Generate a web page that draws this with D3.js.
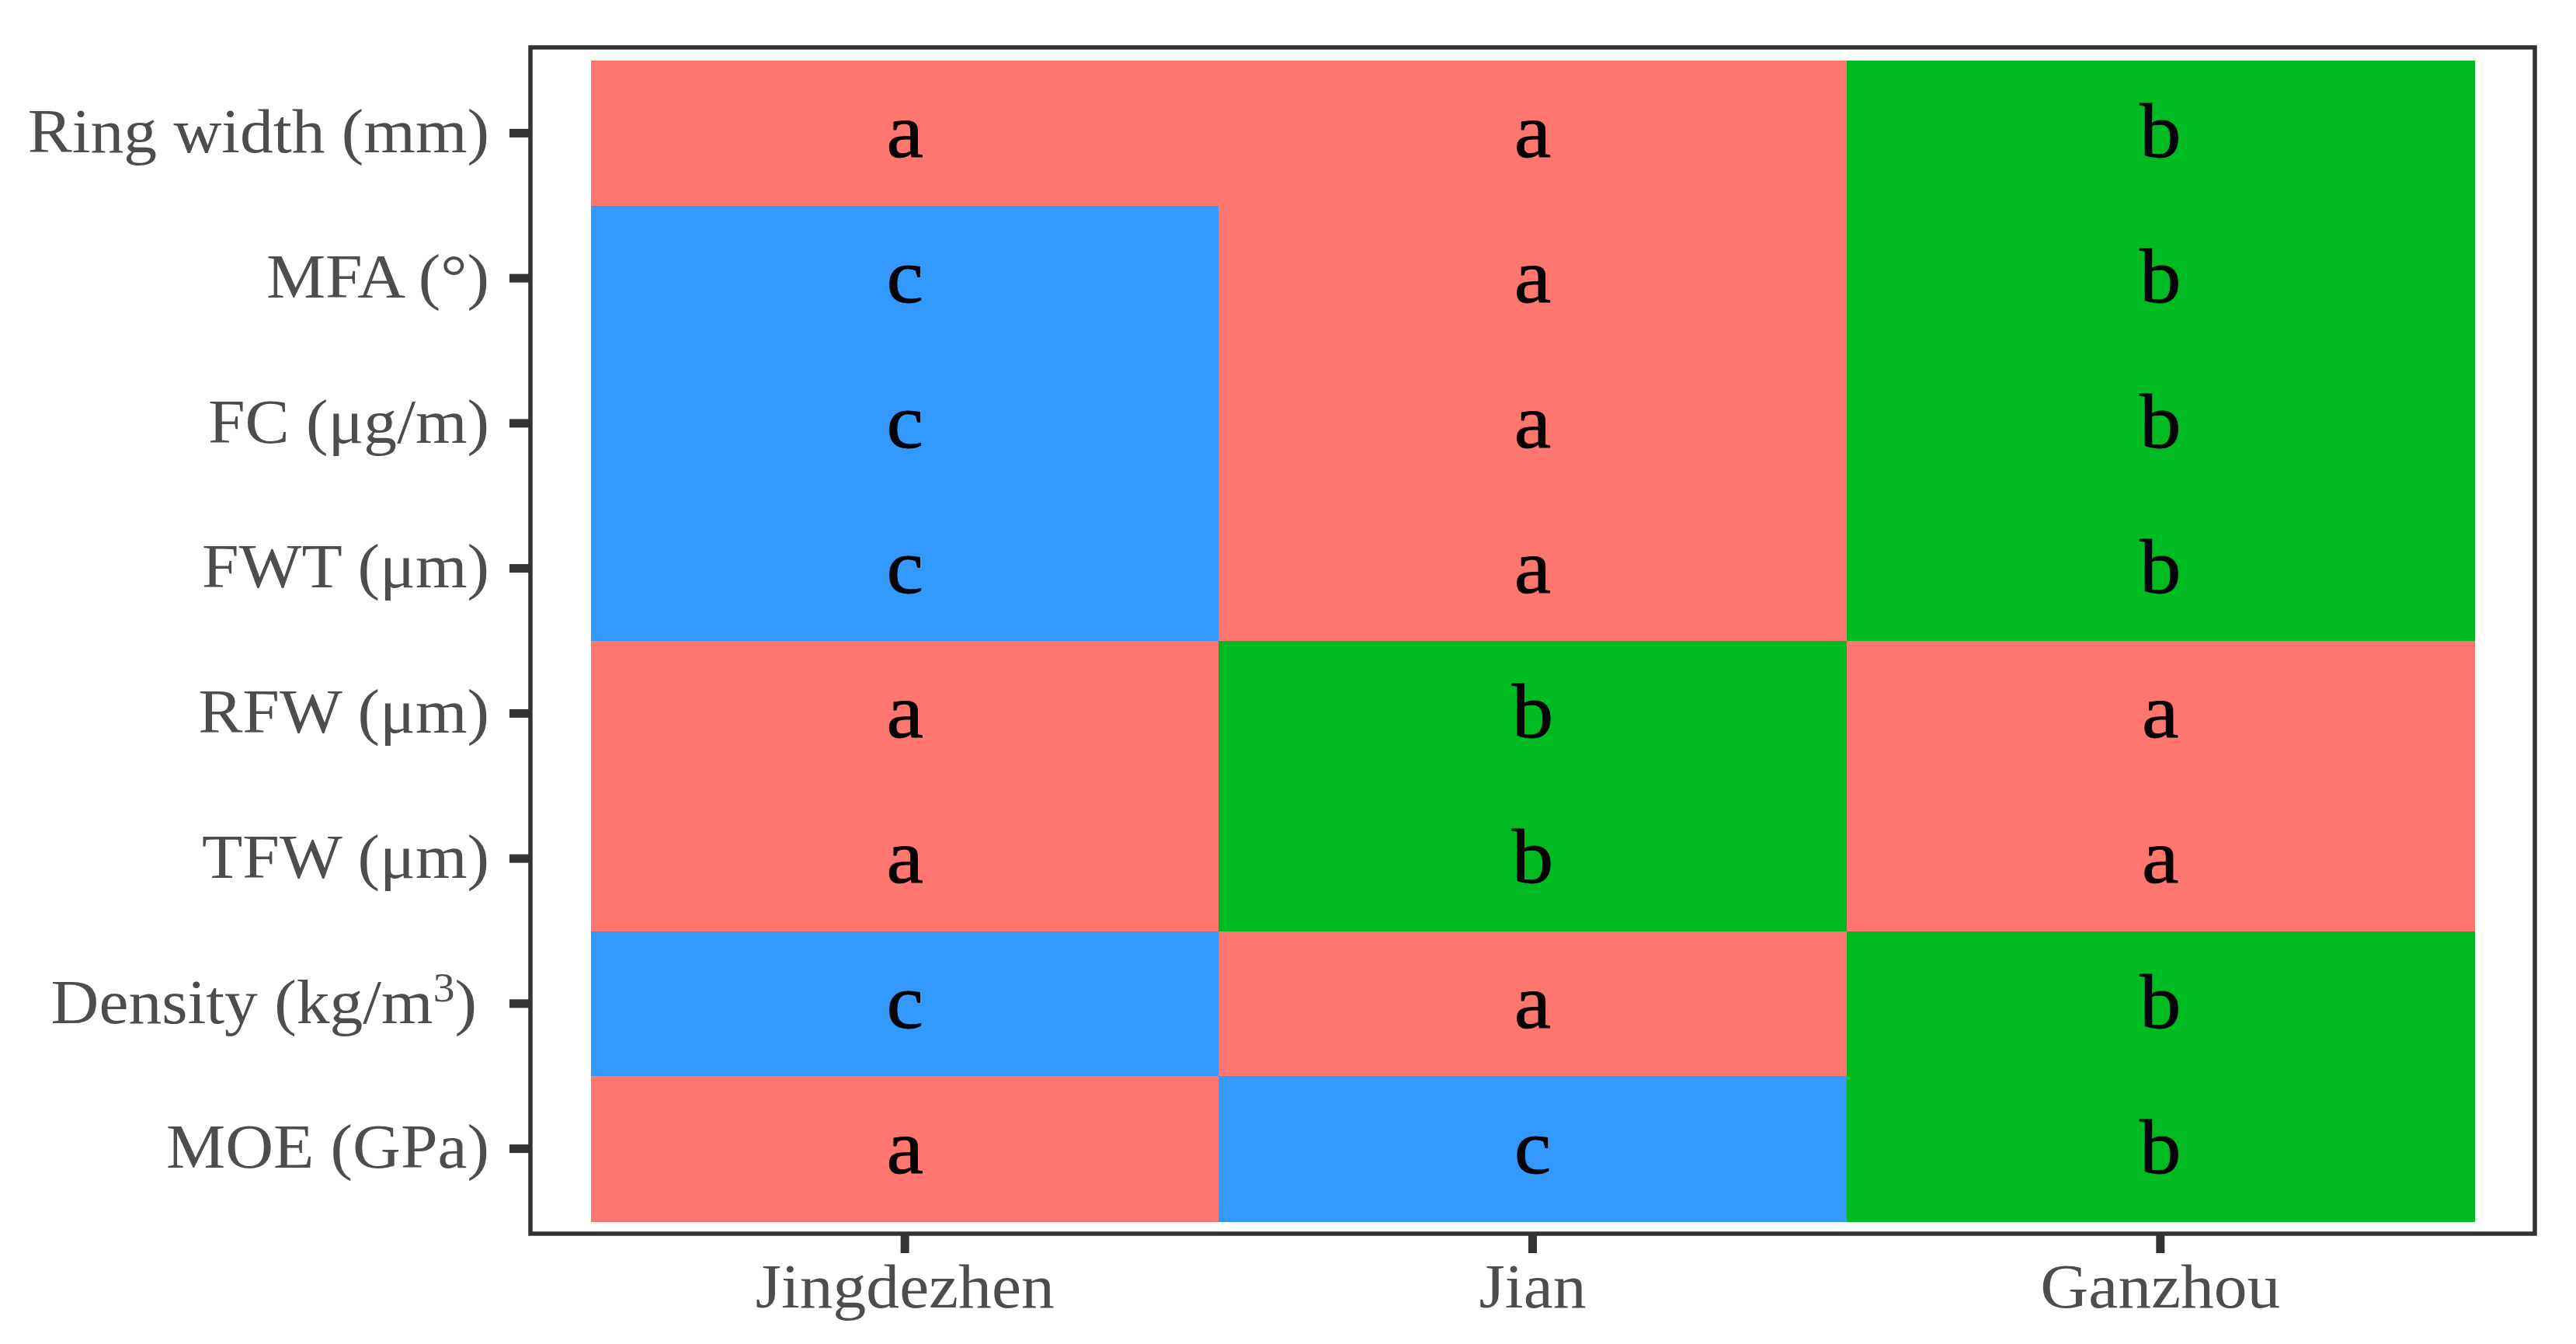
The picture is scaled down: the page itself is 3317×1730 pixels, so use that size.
<!DOCTYPE html>
<html><head><meta charset="utf-8">
<script src="https://cdn.jsdelivr.net/npm/d3@7"></script>
<style>html,body{margin:0;padding:0;background:#fff;} svg{display:block}</style>
</head><body>
<script>
// ---- data ----
const sites = ["Jingdezhen", "Jian", "Ganzhou"];
const traits = ["Ring width (mm)", "MFA (°)", "FC (μg/m)", "FWT (μm)", "RFW (μm)", "TFW (μm)", "Density (kg/m^3)", "MOE (GPa)"];
const jingdezhen = ["a", "c", "c", "c", "a", "a", "c", "a"];
const jian       = ["a", "a", "a", "a", "b", "b", "a", "c"];
const ganzhou    = ["b", "b", "b", "b", "a", "a", "b", "b"];
const groups = ["a", "b", "c"];
const groupColors = ["#FF766F", "#00BA22", "#3399FF"];

// ---- layout ----
const W = 3317, H = 1730;
const FONT = "'Liberation Serif', 'Times New Roman', Times, serif";
const SX = 1.07; // horizontal stretch of glyphs in the reference
const panel = {x0: 683, x1: 3264, y0: 61, y1: 1588};

const svg = d3.select("body").append("svg").attr("width", W).attr("height", H);
svg.append("rect").attr("width", W).attr("height", H).attr("fill", "#fff");

const x = d3.scaleBand().domain(sites).range([761, 3186]);
const y = d3.scaleBand().domain(traits).range([78, 1572]);
const color = d3.scaleOrdinal().domain(groups).range(groupColors);

const cells = [];
[jingdezhen, jian, ganzhou].forEach((col, i) =>
  col.forEach((g, j) => cells.push({site: sites[i], trait: traits[j], g})));

// tiles
svg.append("g").selectAll("rect").data(cells).join("rect")
  .attr("x", d => x(d.site))
  .attr("y", d => y(d.trait))
  .attr("width", x.bandwidth() + 0.5)
  .attr("height", y.bandwidth() + 0.5)
  .attr("fill", d => color(d.g))
  .attr("shape-rendering", "crispEdges");

// letters
svg.append("g").selectAll("text").data(cells).join("text")
  .attr("transform", d => `translate(${x(d.site) + x.bandwidth() / 2},${y(d.trait) + y.bandwidth() / 2 + 31}) scale(${SX},1)`)
  .attr("text-anchor", "middle")
  .attr("font-family", FONT)
  .attr("font-size", 100)
  .attr("fill", "#000")
  .attr("stroke", "#000").attr("stroke-width", 0.8)
  .text(d => d.g);

// y axis
const gy = svg.append("g").attr("transform", `translate(${panel.x0},0)`)
  .call(d3.axisLeft(y).tickSize(27).tickPadding(26));
gy.attr("font-family", FONT).attr("font-size", 80);
gy.select(".domain").remove();
gy.selectAll(".tick line").attr("stroke", "#333333").attr("stroke-width", 11);
gy.selectAll(".tick text").each(function (d) {
  const t = d3.select(this);
  const hasSup = d.includes("^");
  t.text(null).attr("x", null).attr("dy", null)
    .attr("fill", "#4D4D4D")
    .attr("text-anchor", "end")
    .attr("transform", `translate(${-53 - (hasSup ? 16 : 0)},24.8) scale(${SX},1)`);
  if (hasSup) {
    const m = d.match(/^(.*)\^(\w+)(.*)$/);
    t.append("tspan").text(m[1]);
    t.append("tspan").attr("font-size", 52).attr("dy", -28).text(m[2]);
    t.append("tspan").attr("dy", 28).text(m[3]);
  } else {
    t.text(d);
  }
});

// x axis
const gx = svg.append("g").attr("transform", `translate(0,${panel.y1})`)
  .call(d3.axisBottom(x).tickSize(25).tickPadding(10));
gx.attr("font-family", FONT).attr("font-size", 80);
gx.select(".domain").remove();
gx.selectAll(".tick line").attr("stroke", "#333333").attr("stroke-width", 11);
gx.selectAll(".tick text")
  .attr("y", null).attr("dy", null)
  .attr("fill", "#4D4D4D")
  .attr("text-anchor", "middle")
  .attr("transform", `translate(0,${1682.7 - panel.y1}) scale(${SX},1)`);

// panel border
svg.append("rect")
  .attr("x", panel.x0).attr("y", panel.y0)
  .attr("width", panel.x1 - panel.x0).attr("height", panel.y1 - panel.y0)
  .attr("fill", "none").attr("stroke", "#333333").attr("stroke-width", 5.5);
</script>
</body></html>
